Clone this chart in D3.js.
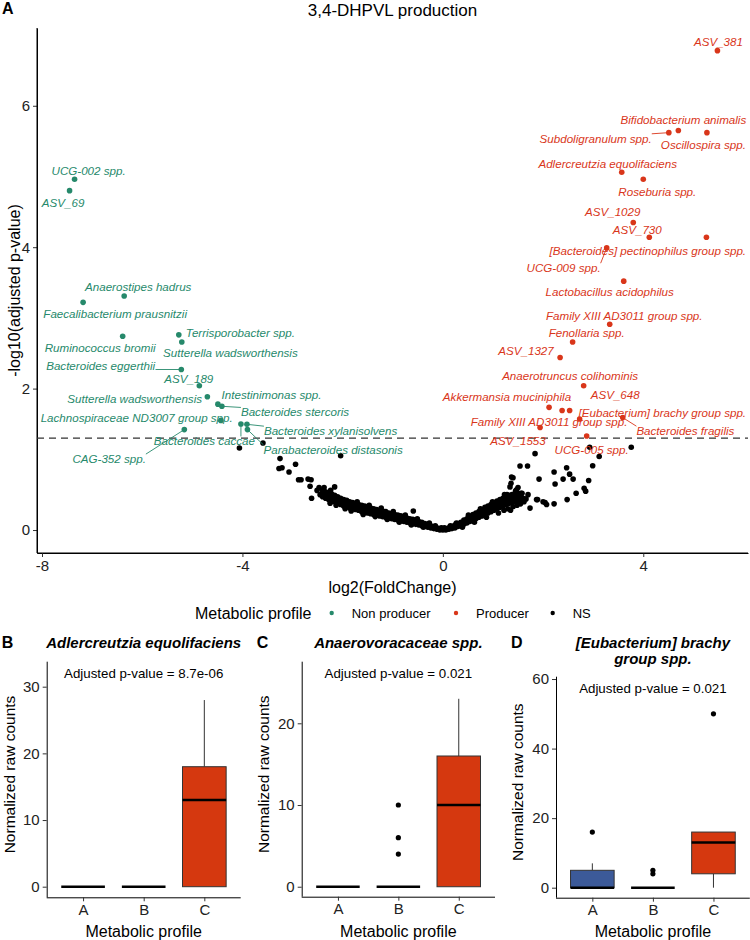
<!DOCTYPE html>
<html><head><meta charset="utf-8">
<script src="https://cdn.jsdelivr.net/npm/d3@7"></script>
<style>body{margin:0;background:#fff;} svg{display:block;font-family:"Liberation Sans",Arial,Helvetica,sans-serif;}</style>
</head><body><svg id="c" width="750" height="940"></svg>
<script>
// ---------------- DATA ----------------
const nonProducerNames = ["UCG-002 spp.","ASV_69","Anaerostipes hadrus","Faecalibacterium prausnitzii","Terrisporobacter spp.","Ruminococcus bromii","Sutterella wadsworthensis","Bacteroides eggerthii","ASV_189","Sutterella wadsworthensis","Intestinimonas spp.","Bacteroides stercoris","Lachnospiraceae ND3007 group spp.","CAG-352 spp.","Bacteroides caccae","Bacteroides xylanisolvens","Parabacteroides distasonis"];
const nonProducerLog2FC = [-7.35,-7.45,-6.36,-7.18,-5.27,-6.39,-5.21,-5.22,-4.86,-4.70,-4.49,-4.41,-4.43,-5.16,-4.03,-3.91,-3.90];
const nonProducerNegLog10P = [4.96,4.80,3.31,3.22,2.76,2.74,2.66,2.27,2.04,1.885,1.78,1.75,1.55,1.42,1.50,1.495,1.42];

const producerNames = ["ASV_381","Bifidobacterium animalis","Subdoligranulum spp.","Oscillospira spp.","Adlercreutzia equolifaciens","Roseburia spp.","ASV_1029","ASV_730","[Bacteroides] pectinophilus group spp.","UCG-009 spp.","Lactobacillus acidophilus","Family XIII AD3011 group spp.","Fenollaria spp.","ASV_1327","Anaerotruncus colihominis","Akkermansia muciniphila","[Eubacterium] brachy group spp.","ASV_648","Family XIII AD3011 group spp.","Bacteroides fragilis","ASV_1553","UCG-005 spp."];
const producerLog2FC = [5.48,4.70,4.51,5.27,3.57,4.00,3.80,4.12,5.26,3.27,3.61,3.33,2.59,2.34,2.81,2.12,2.73,2.53,2.38,3.59,1.94,2.87];
const producerNegLog10P = [6.78,5.65,5.62,5.62,5.06,4.96,4.35,4.14,4.14,3.99,3.52,2.91,2.66,2.44,2.04,1.735,1.57,1.69,1.69,1.59,1.45,1.33];

const nsPoints = [
[-4.06,1.16],[-3.59,1.23],[-2.04,1.05],[-3.25,1.01],[-3.27,0.87],[-3.21,0.88],[-3.07,0.82],[-2.94,0.93],[-2.88,0.71],[-2.83,0.71],[-2.69,0.72],[-2.63,0.71],[-2.65,0.62],[-2.62,0.45],[-2.51,0.56],[-2.45,0.50],[-2.16,0.61],[-2.24,0.56],[-0.59,0.27],[-2.47,0.60],
[-2.40,0.56],[-2.40,0.47],[-2.40,0.52],[-2.34,0.54],[-2.34,0.45],[-2.34,0.50],[-2.28,0.53],[-2.28,0.43],[-2.28,0.48],[-2.22,0.51],[-2.22,0.41],[-2.22,0.46],
[-2.16,0.49],[-2.16,0.40],[-2.16,0.45],[-2.10,0.47],[-2.10,0.38],[-2.10,0.43],[-2.04,0.45],[-2.04,0.36],[-2.04,0.41],[-1.98,0.43],[-1.98,0.34],[-1.98,0.39],
[-1.92,0.42],[-1.92,0.33],[-1.92,0.37],[-1.86,0.40],[-1.86,0.31],[-1.86,0.36],[-1.80,0.39],[-1.80,0.30],[-1.80,0.34],[-1.74,0.37],[-1.74,0.29],[-1.74,0.33],
[-1.68,0.36],[-1.68,0.28],[-1.68,0.32],[-1.62,0.35],[-1.62,0.26],[-1.62,0.31],[-1.56,0.34],[-1.56,0.25],[-1.56,0.30],[-1.50,0.33],[-1.50,0.24],[-1.50,0.28],
[-1.44,0.31],[-1.44,0.23],[-1.44,0.27],[-1.38,0.30],[-1.38,0.22],[-1.38,0.26],[-1.32,0.29],[-1.32,0.21],[-1.32,0.25],[-1.26,0.28],[-1.26,0.20],[-1.26,0.24],
[-1.20,0.27],[-1.20,0.19],[-1.20,0.23],[-1.14,0.26],[-1.14,0.18],[-1.14,0.21],[-1.08,0.24],[-1.08,0.17],[-1.08,0.20],[-1.02,0.23],[-1.02,0.16],[-1.02,0.19],
[-0.96,0.22],[-0.96,0.15],[-0.96,0.18],[-0.90,0.21],[-0.90,0.14],[-0.90,0.17],[-0.84,0.20],[-0.84,0.13],[-0.84,0.16],[-0.78,0.18],[-0.78,0.12],[-0.78,0.15],
[-0.72,0.17],[-0.72,0.11],[-0.72,0.14],[-0.66,0.16],[-0.66,0.10],[-0.66,0.13],[-0.60,0.15],[-0.60,0.09],[-0.60,0.12],[-0.54,0.14],[-0.54,0.08],[-0.54,0.11],
[-0.48,0.12],[-0.48,0.07],[-0.48,0.10],[-0.42,0.11],[-0.42,0.06],[-0.42,0.08],[-0.36,0.09],[-0.36,0.05],[-0.36,0.07],[-0.30,0.08],[-0.30,0.04],[-0.30,0.06],
[-0.24,0.06],[-0.24,0.03],[-0.24,0.05],[-0.18,0.05],[-0.18,0.02],[-0.18,0.03],[-0.12,0.03],[-0.12,0.01],[-0.12,0.02],[-0.06,0.02],[-0.06,0.00],[-0.06,0.01],
[0.00,0.01],[0.00,0.00],[0.06,0.02],[0.06,0.00],[0.12,0.03],[0.12,0.01],[0.12,0.02],[0.18,0.05],[0.18,0.02],[0.18,0.04],[0.24,0.07],[0.24,0.03],[0.24,0.05],
[0.30,0.09],[0.30,0.05],[0.30,0.07],[0.36,0.11],[0.36,0.06],[0.36,0.09],[0.42,0.14],[0.42,0.08],[0.42,0.11],[0.48,0.16],[0.48,0.10],[0.48,0.13],
[0.54,0.19],[0.54,0.12],[0.54,0.16],[0.60,0.22],[0.60,0.14],[0.60,0.18],[0.66,0.24],[0.66,0.16],[0.66,0.20],[0.72,0.26],[0.72,0.18],[0.72,0.22],
[0.78,0.29],[0.78,0.20],[0.78,0.24],[0.84,0.32],[0.84,0.22],[0.84,0.27],[0.90,0.34],[0.90,0.24],[0.90,0.29],[0.96,0.36],[0.96,0.26],[0.96,0.31],
[1.02,0.38],[1.02,0.28],[1.02,0.33],[1.08,0.41],[1.08,0.30],[1.08,0.36],[1.14,0.43],[1.14,0.32],[1.14,0.38],[1.20,0.45],[1.20,0.34],[1.20,0.40],
[1.26,0.47],[1.26,0.36],[1.26,0.42],[1.32,0.49],[1.32,0.38],[1.32,0.44],[1.38,0.50],[1.38,0.39],[1.38,0.45],[1.44,0.51],[1.44,0.40],[1.44,0.46],
[1.50,0.52],[1.50,0.41],[1.50,0.47],[1.56,0.52],[1.56,0.42],[1.56,0.47],
[1.22,0.28],[1.30,0.30],[1.40,0.33],[1.48,0.35],[1.55,0.37],[1.62,0.40],[1.66,0.44],[1.45,0.55],[1.50,0.60],[1.28,0.50],
[1.34,0.61],[1.36,0.66],[1.37,0.75],[1.40,0.74],[1.54,0.905],[1.69,0.905],[1.84,1.08],[1.92,0.72],[1.89,0.43],[2.04,0.39],[2.07,0.36],[2.22,0.37],[2.22,0.82],[2.24,0.65],[2.40,0.72],[2.47,0.88],[2.53,0.79],[2.60,0.72],[2.48,0.43],[2.66,0.52],[2.82,0.59],[2.85,0.55],[2.91,0.70],[2.99,0.91],[3.12,1.04],[2.93,1.17],[3.76,1.17],[1.60,0.45],[1.74,0.31],[1.87,0.43],[2.00,0.40],[1.70,0.50],[1.58,0.52],
[-2.37,0.60],[-2.25,0.38],[-2.13,0.35],[-1.95,0.30],[-1.83,0.27],[-1.71,0.40],[-1.59,0.22],[-1.47,0.35],[-1.35,0.19],[-1.23,0.31],[-1.11,0.15],[-0.99,0.26],[-0.87,0.11],[-0.75,0.21],[-0.63,0.07],[-0.51,0.16],[-0.39,0.04],[-0.27,0.10],[-0.15,0.06],[-0.03,0.03],
[0.03,0.03],[0.15,0.06],[0.27,0.10],[0.39,0.04],[0.51,0.21],[0.63,0.11],[0.75,0.30],[0.87,0.18],[0.99,0.40],[1.11,0.24],[1.23,0.50],[1.35,0.28],[1.47,0.57]
];

const xTicksA = [-8, -4, 0, 4];
const yTicksA = [0, 2, 4, 6];
const pThreshold = 0.05;
const legendLabels = ["Non producer", "Producer", "NS"];

const groups = ["A", "B", "C"];
// box stats: [lowerWhisker, q1, median, q3, upperWhisker]
const statsB = [[0,0,0,0,0],[0,0,0,0,0],[0,0,13,18,28]];
const outliersB = [[],[],[]];
const statsC = [[0,0,0,0,0],[0,0,0,0,0],[0,0,10,16,23]];
const outliersC = [[],[4,6,10],[]];
const statsD = [[0,0,0,5,7],[0,0,0,0,0],[0,4,13,16,16]];
const outliersD = [[16],[4,5],[50]];
const yTicksB = [0,10,20,30];
const yTicksC = [0,10,20];
const yTicksD = [0,20,40,60];

// ---------------- LAYOUT (label placement in data units) ----------------
const nonProducerLabelPos = [[-7.07,5.09],[-7.58,4.63],[-6.08,3.45],[-6.54,3.065],[-4.04,2.80],[-6.84,2.58],[-4.24,2.51],[-6.83,2.32],[-5.07,2.145],[-6.15,1.86],[-3.42,1.92],[-2.95,1.67],[-6.11,1.59],[-6.66,1.01],[-4.76,1.26],[-2.24,1.405],[-2.19,1.14]];
const nonProducerSeg = [0,0,0,0,0,0,0,1,0,0,0,1,0,1,1,1,1];
const producerLabelPos = [[5.50,6.91],[4.80,5.80],[3.05,5.54],[5.20,5.455],[3.29,5.19],[4.28,4.785],[3.39,4.50],[3.88,4.25],[4.09,3.96],[2.41,3.71],[3.33,3.37],[3.62,3.04],[2.87,2.79],[1.66,2.54],[2.54,2.18],[1.28,1.885],[4.38,1.66],[3.44,1.92],[2.12,1.53],[4.84,1.405],[1.50,1.27],[2.97,1.14]];
const producerSeg = [0,0,1,0,0,0,0,0,0,1,0,0,0,0,0,0,0,0,0,1,0,0];

// ---------------- DRAW ----------------
const GREEN = "#26896b", RED = "#d9361a", BLUE = "#3c5a99", BOXRED = "#d5380f";
const svg = d3.select("#c");
const FONT = '"Liberation Sans", Arial, Helvetica, sans-serif';

function styleAxis(g, fs) {
  g.attr("font-family", FONT).attr("font-size", fs);
  g.selectAll(".domain").attr("stroke", "#000").attr("stroke-width", 1);
  g.selectAll(".tick line").attr("stroke", "#333").attr("stroke-width", 1);
  g.selectAll(".tick text").attr("fill", "#222");
}

// Panel A
const ax = d3.scaleLinear().domain([-8.1, 6.09]).range([37, 748]);
const ay = d3.scaleLinear().domain([-0.325, 7.1]).range([553, 28]);
const gA = svg.append("g");

gA.append("text").attr("x", 2).attr("y", 14).attr("font-size", 16).attr("font-weight", "bold").text("A");
gA.append("text").attr("x", (37+748)/2).attr("y", 16).attr("text-anchor", "middle").attr("font-size", 17).text("3,4-DHPVL production");

const xaA = gA.append("g").attr("transform", "translate(0,553)")
  .call(d3.axisBottom(ax).tickValues(xTicksA).tickSize(4).tickSizeOuter(0).tickPadding(3).tickFormat(d => String(d)));
styleAxis(xaA, 15);
const yaA = gA.append("g").attr("transform", "translate(37,0)")
  .call(d3.axisLeft(ay).tickValues(yTicksA).tickSize(4).tickSizeOuter(0).tickPadding(3).tickFormat(d => String(d)));
styleAxis(yaA, 15);
gA.append("line").attr("x1", 37).attr("x2", 748).attr("y1", 553).attr("y2", 553).attr("stroke", "#000");
gA.append("line").attr("x1", 37).attr("x2", 37).attr("y1", 28).attr("y2", 553).attr("stroke", "#000");

gA.append("text").attr("x", (37+748)/2).attr("y", 593).attr("text-anchor", "middle").attr("font-size", 16).text("log2(FoldChange)");
gA.append("text").attr("transform", `translate(14,${(28+553)/2}) rotate(-90)`).attr("text-anchor", "middle").attr("dominant-baseline", "central").attr("font-size", 16).text("-log10(adjusted p-value)");

// points
gA.append("g").selectAll("circle").data(nsPoints).join("circle")
  .attr("cx", d => ax(d[0])).attr("cy", d => ay(d[1])).attr("r", 2.8).attr("fill", "#000");
const npData = nonProducerNames.map((n, i) => ({name: n, x: nonProducerLog2FC[i], y: nonProducerNegLog10P[i], lp: nonProducerLabelPos[i], seg: nonProducerSeg[i], col: GREEN}));
const pData = producerNames.map((n, i) => ({name: n, x: producerLog2FC[i], y: producerNegLog10P[i], lp: producerLabelPos[i], seg: producerSeg[i], col: RED}));
const allSig = npData.concat(pData);
gA.append("g").selectAll("circle").data(allSig).join("circle")
  .attr("cx", d => ax(d.x)).attr("cy", d => ay(d.y)).attr("r", 2.8).attr("fill", d => d.col);

// threshold line
gA.append("line").attr("x1", 37).attr("x2", 748)
  .attr("y1", ay(-Math.log10(pThreshold))).attr("y2", ay(-Math.log10(pThreshold)))
  .attr("stroke", "#333").attr("stroke-width", 1.2).attr("stroke-dasharray", "7,5");

// labels
const lblG = gA.append("g");
allSig.forEach(d => {
  const t = lblG.append("text").attr("x", ax(d.lp[0])).attr("y", ay(d.lp[1]))
    .attr("text-anchor", "middle").attr("dominant-baseline", "central")
    .attr("font-size", 11.6).attr("font-style", "italic").attr("fill", d.col).text(d.name);
  if (d.seg) {
    const bb = t.node().getBBox();
    const px = ax(d.x), py = ay(d.y);
    const cx = Math.max(bb.x, Math.min(px, bb.x + bb.width));
    const cy = Math.max(bb.y + 2, Math.min(py, bb.y + bb.height - 2));
    lblG.append("line").attr("x1", px).attr("y1", py).attr("x2", cx).attr("y2", cy)
      .attr("stroke", d.col).attr("stroke-width", 0.9);
  }
});

// legend
const lg = svg.append("g").attr("font-size", 13);
lg.append("text").attr("x", 195).attr("y", 613).attr("dominant-baseline", "central").attr("font-size", 16).text("Metabolic profile");
const legCols = [GREEN, RED, "#000"];
const legDotX = [331.7, 456, 552.7];
legendLabels.forEach((l, i) => {
  lg.append("circle").attr("cx", legDotX[i]).attr("cy", 613).attr("r", 2.2).attr("fill", legCols[i]);
  lg.append("text").attr("x", legDotX[i] + 20).attr("y", 613).attr("dominant-baseline", "central").text(l);
});

// Box panels
function boxPanel(o) {
  const g = svg.append("g");
  const x = d3.scalePoint().domain(groups).range([o.left, o.right]).padding(0.6);
  const y = d3.scaleLinear().domain(o.domain).range([o.bottom, o.top]);
  const bw = x.step() * 0.72;
  g.append("text").attr("x", o.left - 45).attr("y", 648).attr("font-size", 16).attr("font-weight", "bold").text(o.letter);
  o.title.forEach((t, i) => {
    g.append("text").attr("x", (o.left + o.right) / 2).attr("y", 648 + i * 16).attr("text-anchor", "middle")
      .attr("font-size", 15).attr("font-weight", "bold").attr("font-style", "italic").text(t);
  });
  const xa = g.append("g").attr("transform", `translate(0,${o.bottom})`)
    .call(d3.axisBottom(x).tickSize(4).tickSizeOuter(0).tickPadding(3));
  styleAxis(xa, 15);
  xa.select(".domain").attr("d", `M${o.left},0.5H${o.right}`);
  const ya = g.append("g").attr("transform", `translate(${o.left},0)`)
    .call(d3.axisLeft(y).tickValues(o.ticks).tickSize(4).tickSizeOuter(0).tickPadding(3).tickFormat(d => String(d)));
  styleAxis(ya, 15);
  ya.select(".domain").attr("d", `M0.5,${o.top}V${o.bottom}`);
  g.append("text").attr("x", (o.left + o.right) / 2).attr("y", 937).attr("text-anchor", "middle").attr("font-size", 16).text("Metabolic profile");
  g.append("text").attr("transform", `translate(${o.ylabX},${(o.top + o.bottom) / 2 - 5}) rotate(-90)`).attr("text-anchor", "middle")
    .attr("dominant-baseline", "central").attr("font-size", 15.5).text("Normalized raw counts");
  g.append("text").attr("x", x("B")).attr("y", o.top + 11.5).attr("text-anchor", "middle").attr("dominant-baseline", "central")
    .attr("font-size", 13.3).text(o.ptext);
  const fills = [BLUE, GREEN, BOXRED];
  groups.forEach((grp, i) => {
    const s = o.stats[i], cx = x(grp);
    g.append("line").attr("x1", cx).attr("x2", cx).attr("y1", y(s[3])).attr("y2", y(s[4])).attr("stroke", "#333").attr("stroke-width", 1);
    g.append("line").attr("x1", cx).attr("x2", cx).attr("y1", y(s[1])).attr("y2", y(s[0])).attr("stroke", "#333").attr("stroke-width", 1);
    g.append("rect").attr("x", cx - bw / 2).attr("width", bw).attr("y", y(s[3])).attr("height", Math.max(0, y(s[1]) - y(s[3])))
      .attr("fill", fills[i]).attr("stroke", "#333").attr("stroke-width", 1);
    g.append("line").attr("x1", cx - bw / 2).attr("x2", cx + bw / 2).attr("y1", y(s[2])).attr("y2", y(s[2])).attr("stroke", "#000").attr("stroke-width", 2.6);
    o.out[i].forEach(v => g.append("circle").attr("cx", cx).attr("cy", y(v)).attr("r", 2.6).attr("fill", "#000"));
  });
}
boxPanel({letter: "B", left: 46.7, right: 240.7, top: 661.7, bottom: 897.3, domain: [-1.59, 33.75], ticks: yTicksB, stats: statsB, out: outliersB, title: ["Adlercreutzia equolifaciens"], ptext: "Adjusted p-value = 8.7e-06", ylabX: 9.5});
boxPanel({letter: "C", left: 301.7, right: 495, top: 661.7, bottom: 896.7, domain: [-1.22, 27.54], ticks: yTicksC, stats: statsC, out: outliersC, title: ["Anaerovoracaceae spp."], ptext: "Adjusted p-value = 0.021", ylabX: 263});
boxPanel({letter: "D", left: 556, right: 749.8, top: 676.7, bottom: 897.7, domain: [-2.875, 60.67], ticks: yTicksD, stats: statsD, out: outliersD, title: ["[Eubacterium] brachy", "group spp."], ptext: "Adjusted p-value = 0.021", ylabX: 517.5});
</script></body></html>
